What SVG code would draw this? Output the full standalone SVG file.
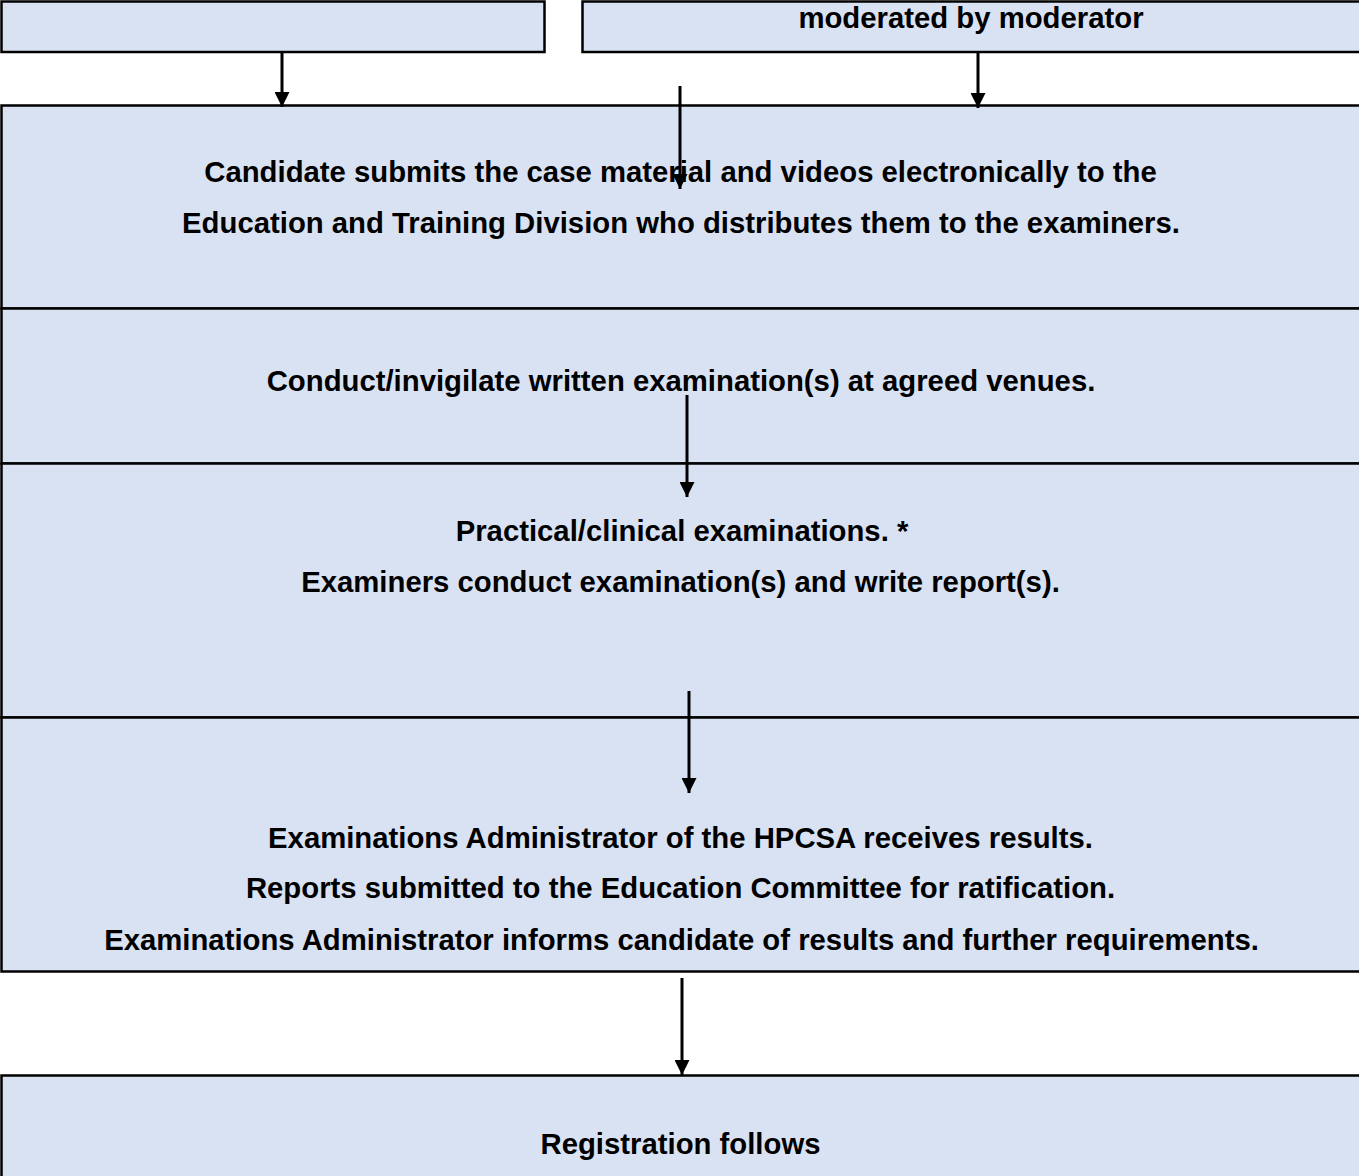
<svg xmlns="http://www.w3.org/2000/svg" width="1359" height="1176" viewBox="0 0 1359 1176">
<style>
.box{fill:#d9e2f3;stroke:#000;stroke-width:2.5}
.t{font-family:"Liberation Sans",Arial,sans-serif;font-weight:bold;font-size:29.3px;fill:#000;text-anchor:middle}
.c{stroke:#000;stroke-width:3;fill:none;marker-end:url(#ah)}
</style>
<defs>
<marker id="ah" markerWidth="5" markerHeight="5" refX="5" refY="2.5" orient="auto" markerUnits="strokeWidth">
<path d="M0,0 L5,2.5 L0,5 Z" fill="#000"/>
</marker>
</defs>
<rect width="1359" height="1176" fill="#fff"/>
<g id="n1"><rect class="box" x="1.5" y="1.5" width="543" height="50.5"/></g>
<g id="n2"><rect class="box" x="582.5" y="1.5" width="790" height="50.5"/><text class="t" x="971" y="28">moderated by moderator</text></g>
<g id="n3"><rect class="box" x="1.5" y="105.5" width="1370" height="203"/>
<text class="t" x="680.5" y="182">Candidate submits the case material and videos electronically to the</text>
<text class="t" x="681" y="233">Education and Training Division who distributes them to the examiners.</text></g>
<g id="n4"><rect class="box" x="1.5" y="308.5" width="1370" height="155"/>
<text class="t" x="681" y="391">Conduct/invigilate written examination(s) at agreed venues.</text></g>
<g id="n5"><rect class="box" x="1.5" y="463.5" width="1370" height="254"/>
<text class="t" x="682" y="541">Practical/clinical examinations. *</text>
<text class="t" x="680.5" y="592">Examiners conduct examination(s) and write report(s).</text></g>
<g id="n6"><rect class="box" x="1.5" y="717.5" width="1370" height="254"/>
<text class="t" x="680.5" y="848">Examinations Administrator of the HPCSA receives results.</text>
<text class="t" x="680.5" y="898">Reports submitted to the Education Committee for ratification.</text>
<text class="t" x="681.5" y="950">Examinations Administrator informs candidate of results and further requirements.</text></g>
<g id="n7"><rect class="box" x="1.5" y="1075.5" width="1370" height="120"/>
<text class="t" x="680.5" y="1154">Registration follows</text></g>
<g id="connectors">
<line class="c" x1="282" y1="53" x2="282" y2="107"/>
<line class="c" x1="978" y1="53" x2="978" y2="108"/>
<line class="c" x1="680" y1="86" x2="680" y2="189"/>
<line class="c" x1="687" y1="395" x2="687" y2="497"/>
<line class="c" x1="689" y1="691" x2="689" y2="793"/>
<line class="c" x1="682" y1="978" x2="682" y2="1075"/>
</g>
</svg>
